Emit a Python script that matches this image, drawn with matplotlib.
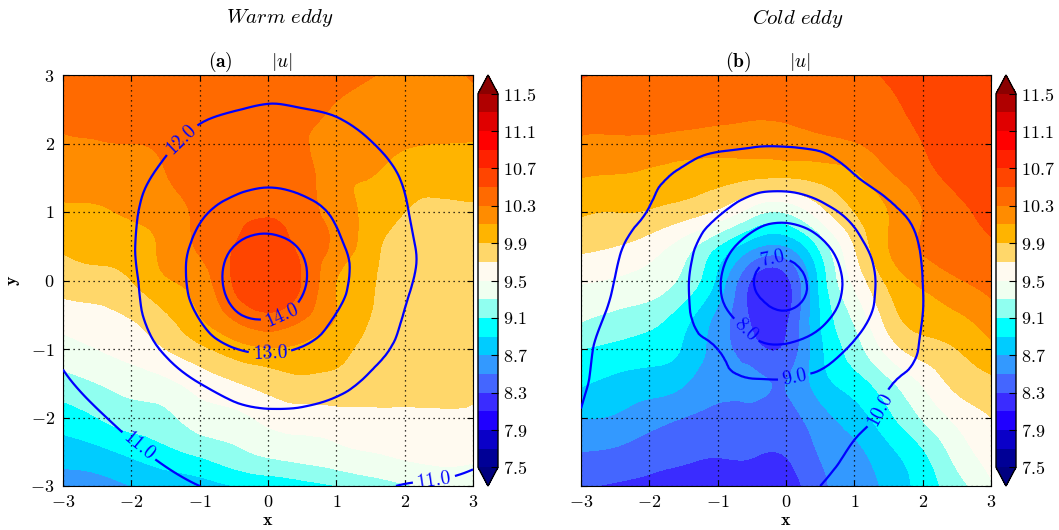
import numpy as np
import matplotlib
matplotlib.use("Agg")
import matplotlib.pyplot as plt
from matplotlib.colors import ListedColormap
from matplotlib.ticker import FuncFormatter, MultipleLocator
from matplotlib.tri import Triangulation, UniformTriRefiner

plt.rcParams.update({
    "font.family": "serif",
    "font.serif": ["cmr10", "DejaVu Serif"],
    "mathtext.fontset": "cm",
    "axes.unicode_minus": False,
    "axes.formatter.use_mathtext": True,
    "xtick.direction": "in",
    "ytick.direction": "in",
    "xtick.top": True,
    "ytick.right": True,
    "xtick.major.size": 4,
    "ytick.major.size": 4,
    "font.size": 13,
})

# ------------------------------------------------------------------
# Data: values on a 0.5 grid (rows top -> bottom)
# ------------------------------------------------------------------
x_pts = [-3, -2.5, -2, -1.5, -1, -0.5, 0, 0.5, 1, 1.5, 2, 2.5, 3]
y_pts = [3, 2.5, 2, 1.5, 1, 0.5, 0, -0.5, -1, -1.5, -2, -2.5, -3]

# |u| shading, warm eddy
warm_u = [
    [10.42, 10.42, 10.42, 10.42, 10.42, 10.42, 10.42, 10.40, 10.36, 10.31, 10.25, 10.26, 10.31],
    [10.38, 10.38, 10.40, 10.40, 10.42, 10.42, 10.42, 10.38, 10.28, 10.22, 10.20, 10.20, 10.24],
    [10.27, 10.29, 10.30, 10.33, 10.40, 10.42, 10.42, 10.33, 10.20, 10.15, 10.12, 10.10, 10.09],
    [10.20, 10.20, 10.20, 10.29, 10.40, 10.45, 10.45, 10.40, 10.15, 10.10, 10.00, 9.98, 9.95],
    [10.05, 10.07, 10.13, 10.20, 10.35, 10.45, 10.48, 10.40, 10.20, 10.05, 9.90, 9.85, 9.88],
    [9.92, 9.97, 10.00, 10.15, 10.33, 10.50, 10.60, 10.45, 10.25, 9.98, 9.80, 9.80, 9.80],
    [9.80, 9.82, 9.90, 10.08, 10.20, 10.52, 10.62, 10.49, 10.10, 9.92, 9.80, 9.80, 9.80],
    [9.60, 9.65, 9.72, 9.88, 10.10, 10.35, 10.48, 10.35, 10.10, 9.90, 9.80, 9.80, 9.80],
    [9.42, 9.50, 9.58, 9.70, 9.85, 10.00, 10.08, 10.05, 9.95, 9.85, 9.80, 9.78, 9.78],
    [9.22, 9.30, 9.38, 9.45, 9.58, 9.68, 9.78, 9.85, 9.85, 9.80, 9.76, 9.75, 9.72],
    [9.00, 9.10, 9.20, 9.25, 9.40, 9.45, 9.55, 9.60, 9.62, 9.65, 9.67, 9.68, 9.68],
    [8.80, 8.85, 8.95, 9.05, 9.15, 9.25, 9.35, 9.40, 9.45, 9.50, 9.55, 9.58, 9.55],
    [8.60, 8.62, 8.70, 8.75, 8.80, 8.90, 8.95, 9.02, 9.10, 9.20, 9.28, 9.35, 9.40],
]

# line contours, warm eddy
warm_lines = [
    [11.14, 11.31, 11.47, 11.60, 11.71, 11.78, 11.82, 11.80, 11.74, 11.65, 11.52, 11.37, 11.21],
    [11.26, 11.44, 11.61, 11.77, 11.90, 11.98, 12.05, 12.01, 11.94, 11.82, 11.68, 11.51, 11.33],
    [11.29, 11.51, 11.72, 11.93, 12.15, 12.36, 12.45, 12.40, 12.24, 12.02, 11.82, 11.62, 11.42],
    [11.35, 11.60, 11.85, 12.13, 12.46, 12.73, 12.85, 12.76, 12.55, 12.25, 11.96, 11.72, 11.52],
    [11.33, 11.61, 11.92, 12.36, 12.86, 13.32, 13.50, 13.30, 12.88, 12.44, 12.04, 11.76, 11.54],
    [11.30, 11.62, 11.95, 12.50, 13.24, 14.00, 14.24, 13.90, 13.16, 12.60, 12.12, 11.80, 11.56],
    [11.26, 11.58, 11.90, 12.52, 13.36, 14.25, 14.49, 14.10, 13.27, 12.62, 12.10, 11.78, 11.52],
    [11.18, 11.50, 11.83, 12.40, 13.07, 13.88, 14.11, 13.70, 12.98, 12.47, 11.98, 11.72, 11.48],
    [11.09, 11.38, 11.69, 12.08, 12.55, 12.97, 13.12, 12.95, 12.62, 12.20, 11.88, 11.65, 11.44],
    [10.92, 11.19, 11.46, 11.73, 12.00, 12.26, 12.43, 12.36, 12.18, 11.90, 11.72, 11.55, 11.37],
    [10.68, 10.93, 11.19, 11.45, 11.66, 11.81, 11.87, 11.86, 11.77, 11.64, 11.52, 11.40, 11.26],
    [10.40, 10.65, 10.90, 11.14, 11.33, 11.46, 11.52, 11.52, 11.47, 11.37, 11.28, 11.20, 11.10],
    [10.11, 10.35, 10.60, 10.82, 11.00, 11.11, 11.18, 11.18, 11.15, 11.08, 10.98, 10.95, 10.90],
]

# |u| shading, cold eddy
cold_u = [
    [10.52, 10.44, 10.42, 10.41, 10.40, 10.40, 10.40, 10.42, 10.45, 10.52, 10.58, 10.62, 10.62],
    [10.38, 10.38, 10.38, 10.37, 10.35, 10.33, 10.33, 10.35, 10.40, 10.46, 10.55, 10.60, 10.62],
    [10.27, 10.26, 10.25, 10.22, 10.20, 10.20, 10.22, 10.25, 10.29, 10.40, 10.50, 10.58, 10.62],
    [10.10, 10.08, 10.05, 10.00, 9.96, 9.92, 9.90, 9.95, 10.05, 10.25, 10.42, 10.55, 10.60],
    [9.92, 9.90, 9.88, 9.80, 9.66, 9.40, 9.32, 9.62, 9.90, 10.10, 10.30, 10.45, 10.55],
    [9.75, 9.70, 9.60, 9.40, 9.10, 8.76, 8.70, 9.15, 9.70, 10.10, 10.32, 10.42, 10.48],
    [9.52, 9.48, 9.42, 9.25, 8.85, 8.28, 8.24, 8.95, 9.55, 9.95, 10.15, 10.28, 10.38],
    [9.35, 9.27, 9.20, 9.00, 8.65, 8.26, 8.24, 8.90, 9.35, 9.80, 10.00, 10.08, 10.22],
    [9.10, 9.05, 9.00, 8.88, 8.60, 8.38, 8.34, 8.85, 9.20, 9.58, 9.80, 9.90, 10.05],
    [8.92, 8.85, 8.80, 8.72, 8.55, 8.55, 8.50, 8.80, 9.00, 9.25, 9.52, 9.76, 9.85],
    [8.70, 8.68, 8.58, 8.50, 8.45, 8.42, 8.42, 8.62, 8.80, 9.05, 9.32, 9.55, 9.70],
    [8.50, 8.47, 8.40, 8.35, 8.32, 8.32, 8.32, 8.52, 8.65, 8.85, 9.08, 9.38, 9.60],
    [8.32, 8.28, 8.25, 8.20, 8.20, 8.18, 8.20, 8.45, 8.60, 8.75, 8.98, 9.22, 9.47],
]

# line contours, cold eddy
cold_lines = [
    [10.72, 10.63, 10.55, 10.48, 10.43, 10.40, 10.39, 10.42, 10.47, 10.54, 10.63, 10.73, 10.85],
    [10.59, 10.47, 10.37, 10.30, 10.26, 10.22, 10.22, 10.25, 10.30, 10.39, 10.49, 10.60, 10.72],
    [10.48, 10.34, 10.22, 10.14, 10.09, 10.05, 10.04, 10.08, 10.15, 10.25, 10.35, 10.47, 10.60],
    [10.38, 10.23, 10.09, 9.90, 9.64, 9.42, 9.37, 9.56, 9.96, 10.18, 10.32, 10.45, 10.58],
    [10.38, 10.20, 9.97, 9.51, 9.09, 8.56, 8.37, 8.70, 9.30, 9.86, 10.14, 10.32, 10.48],
    [10.28, 10.08, 9.70, 9.23, 8.47, 7.60, 7.28, 7.77, 8.70, 9.49, 10.04, 10.25, 10.45],
    [10.25, 9.99, 9.55, 9.11, 8.12, 7.04, 6.79, 7.30, 8.40, 9.32, 10.00, 10.22, 10.42],
    [10.20, 9.89, 9.50, 9.13, 8.35, 7.47, 7.09, 7.64, 8.60, 9.39, 10.00, 10.22, 10.42],
    [10.11, 9.80, 9.47, 9.19, 9.00, 8.33, 8.19, 8.56, 9.12, 9.58, 10.05, 10.25, 10.42],
    [10.06, 9.75, 9.41, 9.22, 9.12, 9.07, 9.06, 9.18, 9.45, 9.95, 10.16, 10.30, 10.45],
    [9.97, 9.63, 9.44, 9.34, 9.26, 9.24, 9.28, 9.47, 9.80, 10.10, 10.24, 10.37, 10.50],
    [9.86, 9.65, 9.55, 9.47, 9.41, 9.41, 9.52, 9.71, 10.08, 10.20, 10.32, 10.44, 10.60],
    [9.84, 9.77, 9.68, 9.60, 9.56, 9.58, 9.76, 10.00, 10.25, 10.30, 10.40, 10.50, 10.64],
]

shade_levels = np.linspace(7.5, 11.5, 21)
cbar_ticks = [7.5, 7.9, 8.3, 8.7, 9.1, 9.5, 9.9, 10.3, 10.7, 11.1, 11.5]
warm_line_levels = [11, 12, 13, 14]
cold_line_levels = [7, 8, 9, 10]
warm_label_pos = [(-1.14, 1.93), (0.03, -1.07), (0.2, -0.51), (-1.87, -2.39), (2.42, -2.85)]
cold_label_pos = [(-0.19, 0.37), (-0.58, -0.72), (0.11, -1.36), (1.4, -1.89)]

band_colors = ["#000096", "#0a00c8", "#2000ff", "#3a2cff", "#4466ff",
               "#3399ff", "#00ccff", "#00ffff", "#90fff0", "#f0fff0",
               "#fffaf0", "#ffd76a", "#ffb400", "#ff8c00", "#ff6a00",
               "#ff4500", "#ff2200", "#ff0000", "#e00000", "#b00000"]
cmap = ListedColormap(band_colors)
cmap.set_under("#000080")
cmap.set_over("#8b0000")

# ------------------------------------------------------------------
# Figure
# ------------------------------------------------------------------
W, H = 1059, 530
fig = plt.figure(figsize=(W / 100, H / 100), dpi=100)

int_fmt = FuncFormatter(lambda v, p: r"$%d$" % round(v))
cb_fmt = FuncFormatter(lambda v, p: r"$%.1f$" % v)

gx, gy = np.meshgrid(x_pts, y_pts)
tri = Triangulation(gx.ravel(), gy.ravel())
refiner = UniformTriRefiner(tri)


def draw_panel(left_px, cbar_px, Z, L, line_levels, label_pos, tag, eddy_name, show_y):
    ax = fig.add_axes([left_px / W, 44 / H, 410 / W, 411 / H])
    cax = fig.add_axes([cbar_px / W, 44 / H, 20 / W, 411 / H])

    # smooth the coarse grid through matplotlib's triangulation refiner
    tri_z, z_fine = refiner.refine_field(np.ravel(Z), subdiv=3)
    tri_l, l_fine = refiner.refine_field(np.ravel(L), subdiv=3)

    cf = ax.tricontourf(tri_z, z_fine, levels=shade_levels, cmap=cmap, extend="both")
    cs = ax.tricontour(tri_l, l_fine, levels=line_levels, colors="#0000ff",
                       linewidths=1.6, zorder=3)
    ax.clabel(cs, fmt="%.1f", fontsize=14, manual=label_pos, inline=True, inline_spacing=4)

    ax.set_xlim(-3, 3)
    ax.set_ylim(-3, 3)
    ax.xaxis.set_major_locator(MultipleLocator(1))
    ax.yaxis.set_major_locator(MultipleLocator(1))
    ax.xaxis.set_major_formatter(int_fmt)
    ax.yaxis.set_major_formatter(int_fmt)
    ax.grid(True, color="k", linestyle=(0, (1, 3)), linewidth=0.9)
    ax.set_axisbelow(False)
    ax.tick_params(labelsize=13, pad=6)
    ax.set_xlabel(r"$\mathbf{x}$", fontsize=13, labelpad=2)
    if show_y:
        ax.set_ylabel(r"$\mathbf{y}$", fontsize=13, labelpad=6)
    else:
        ax.tick_params(labelleft=False)

    cb = fig.colorbar(cf, cax=cax, ticks=cbar_ticks, format=cb_fmt)
    cb.ax.tick_params(direction="in", length=5, labelsize=13, right=True, left=False)
    cb.outline.set_linewidth(1.0)

    cx = left_px + 205
    fig.text((cx + 12) / W, 1 - 18 / H, eddy_name, ha="center", va="center", fontsize=15)
    fig.text((cx - 48) / W, 1 - 62 / H, r"$\mathbf{(%s)}$" % tag, ha="center", va="center", fontsize=14)
    fig.text((cx + 14) / W, 1 - 62 / H, r"$|u|$", ha="center", va="center", fontsize=14)
    return ax


draw_panel(63, 478, warm_u, warm_lines, warm_line_levels, warm_label_pos, "a",
           r"$\mathit{Warm\ eddy}$", True)
draw_panel(581, 996, cold_u, cold_lines, cold_line_levels, cold_label_pos, "b",
           r"$\mathit{Cold\ eddy}$", False)

fig.savefig("out.png", dpi=100)
